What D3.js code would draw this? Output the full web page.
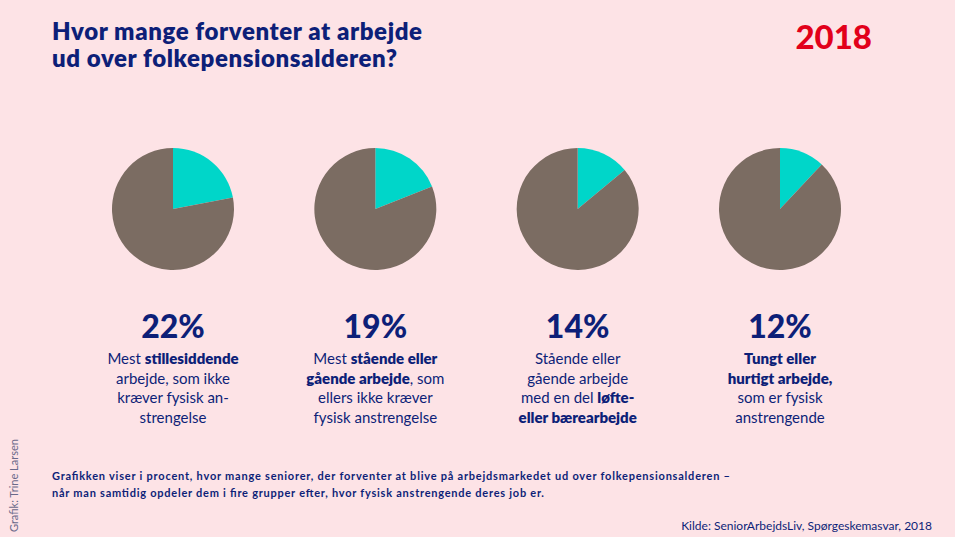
<!DOCTYPE html>
<html><head><meta charset="utf-8">
<script src="https://cdn.jsdelivr.net/npm/d3@7"></script>
<style>body{margin:0;background:#fde3e6}svg{display:block;font-family:"Lato","Open Sans",sans-serif}</style>
</head><body>
<script>
const shares = [22, 19, 14, 12];
const percentLabels = ["22%", "19%", "14%", "12%"];
// each line is a list of [text, bold]
const descriptions = [
  [[["Mest ", 0], ["stillesiddende", 1]], [["arbejde, som ikke", 0]], [["kræver fysisk an-", 0]], [["strengelse", 0]]],
  [[["Mest ", 0], ["stående eller", 1]], [["gående arbejde", 1], [", som", 0]], [["ellers ikke kræver", 0]], [["fysisk anstrengelse", 0]]],
  [[["Stående eller", 0]], [["gående arbejde", 0]], [["med en del ", 0], ["løfte-", 1]], [["eller bærearbejde", 1]]],
  [[["Tungt eller", 1]], [["hurtigt arbejde,", 1]], [["som er fysisk", 0]], [["anstrengende", 0]]]
];

const width = 955, height = 537;
const navy = "#0d1f78";
const svg = d3.select("body").append("svg").attr("width", width).attr("height", height);
svg.append("rect").attr("width", width).attr("height", height).attr("fill", "#fde3e6");

svg.append("text").attr("x", 52).attr("y", 40).attr("fill", navy)
  .attr("font-size", 24).attr("font-weight", 800).attr("textLength", 370).text("Hvor mange forventer at arbejde");
svg.append("text").attr("x", 52).attr("y", 67).attr("fill", navy)
  .attr("font-size", 24).attr("font-weight", 800).attr("textLength", 345).text("ud over folkepensionsalderen?");
svg.append("text").attr("x", 872).attr("y", 49).attr("text-anchor", "end").attr("fill", "#e2001a")
  .attr("font-size", 33).attr("font-weight", 900).text("2018");

const xScale = d3.scalePoint().domain(d3.range(shares.length)).range([173, 780]);
const radius = 61;
const pie = d3.pie().sort(null);
const arc = d3.arc().innerRadius(0).outerRadius(radius);

const groups = svg.selectAll(".grp").data(shares).join("g")
  .attr("class", "grp")
  .attr("transform", (d, i) => `translate(${xScale(i)},0)`);

groups.each(function (d, i) {
  const g = d3.select(this);
  g.append("g").attr("transform", "translate(0,209)")
    .selectAll("path").data(pie([d, 100 - d])).join("path")
    .attr("d", arc).attr("fill", (p, j) => j === 0 ? "#00d6c9" : "#7b6c62");
  g.append("text").attr("y", 338).attr("text-anchor", "middle").attr("fill", navy)
    .attr("font-size", 32).attr("font-weight", 900).text(percentLabels[i]);
  descriptions[i].forEach((line, k) => {
    const t = g.append("text").attr("y", 364 + k * 19.5).attr("text-anchor", "middle")
      .attr("fill", navy).attr("font-size", 15);
    line.forEach(([s, b]) => t.append("tspan").attr("font-weight", b ? 800 : 400).text(s));
  });
});

svg.append("text").attr("x", 52).attr("y", 480).attr("fill", navy).attr("font-size", 11).attr("font-weight", 700)
  .attr("textLength", 678).text("Grafikken viser i procent, hvor mange seniorer, der forventer at blive på arbejdsmarkedet ud over folkepensionsalderen –");
svg.append("text").attr("x", 52).attr("y", 497).attr("fill", navy).attr("font-size", 11).attr("font-weight", 700)
  .attr("textLength", 492).text("når man samtidig opdeler dem i fire grupper efter, hvor fysisk anstrengende deres job er.");
svg.append("text").attr("x", 932).attr("y", 530).attr("text-anchor", "end").attr("fill", navy).attr("font-size", 12)
  .text("Kilde: SeniorArbejdsLiv, Spørgeskemasvar, 2018");
svg.append("text").attr("transform", "translate(18,532) rotate(-90)").attr("fill", "#6a6a8a").attr("font-size", 11)
  .text("Grafik: Trine Larsen");
</script>
</body></html>
